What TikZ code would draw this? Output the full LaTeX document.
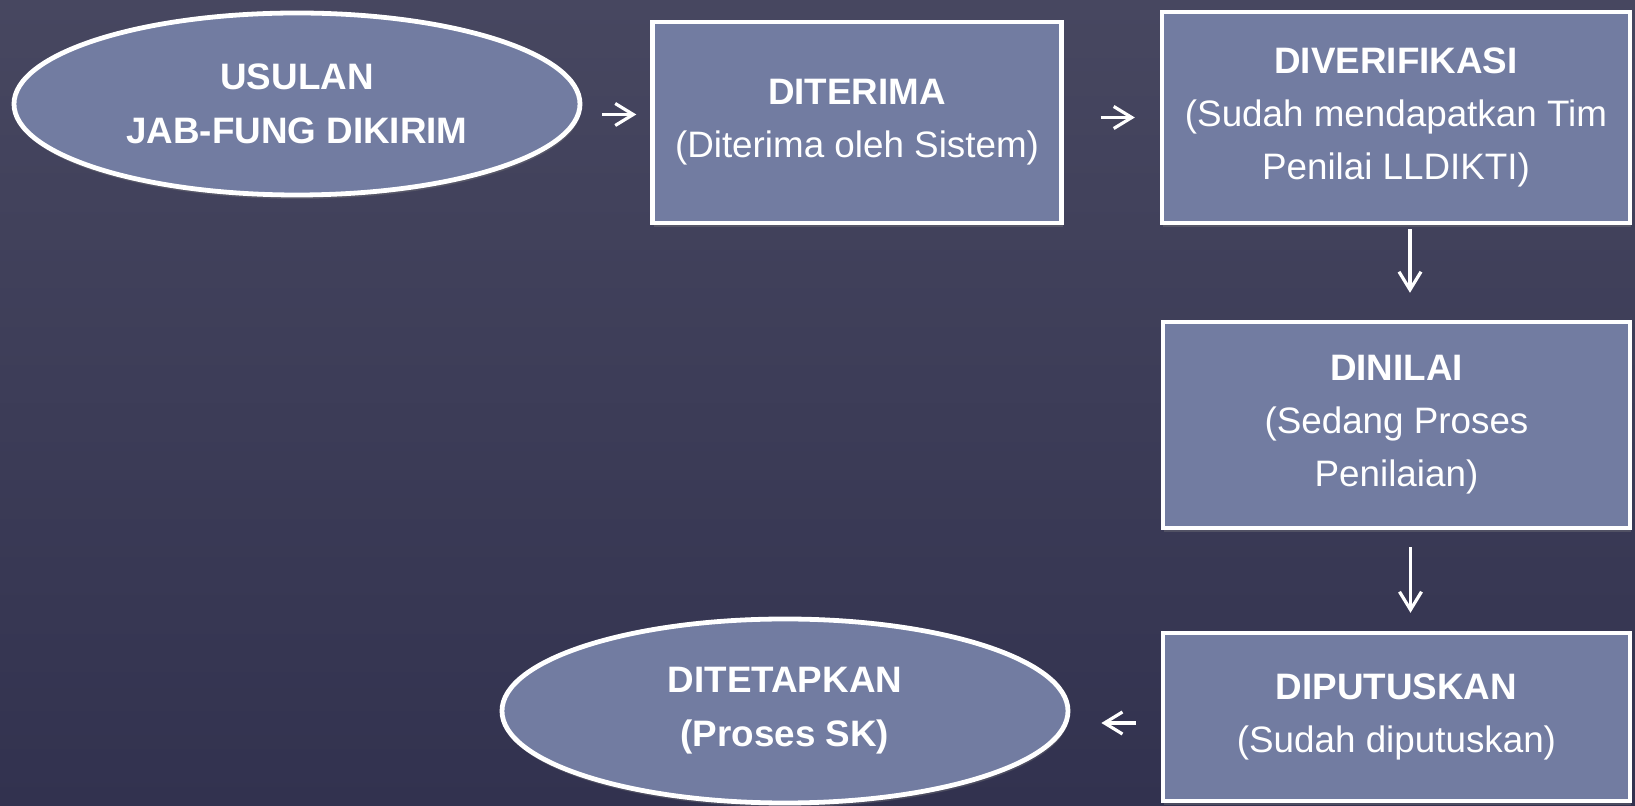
\documentclass[tikz,border=0pt]{standalone}
\usepackage{fontspec}
\setmainfont{Liberation Sans}
\usepackage{tikz}
\usetikzlibrary{shapes.geometric}
\usetikzlibrary{arrows.meta}
\usetikzlibrary{shadows}
\definecolor{bgtop}{RGB}{71,71,96}
\definecolor{bgbot}{RGB}{50,50,79}
\definecolor{stepfill}{RGB}{114,124,161}

\begin{document}
\begin{tikzpicture}[x=0.5pt,y=-0.5pt,
    stepbox/.style={rectangle,draw=white,line width=2.2pt,fill=stepfill,text=white,align=center,inner sep=0pt,font=\fontsize{18.4}{26.5}\selectfont,drop shadow={opacity=0.35,shadow xshift=0.5pt,shadow yshift=-2pt}},
    stepoval/.style={ellipse,draw=white,line width=2.4pt,fill=stepfill,text=white,align=center,inner sep=0pt,font=\bfseries\fontsize{18.4}{27}\selectfont,drop shadow={opacity=0.35,shadow xshift=0.5pt,shadow yshift=-2pt}},
    flow/.style={draw=white,line width=1.6pt,-{Straight Barb[length=9pt,width=11pt,line width=1.6pt]}}]
    \useasboundingbox (0,0) rectangle (1635,806);
    \fill[top color=bgtop,bottom color=bgbot] (0,0) rectangle (1635,806);
    %
    \node[stepoval,minimum width=283pt,minimum height=91pt] (usulan) at (297,104) {USULAN\\JAB-FUNG DIKIRIM};
    \node[stepbox,minimum width=204.5pt,minimum height=100.5pt] (diterima) at (857,122.5) {\textbf{DITERIMA}\\(Diterima oleh Sistem)};
    \node[stepbox,minimum width=234pt,minimum height=105.5pt] (diverifikasi) at (1396,117.5) {\textbf{DIVERIFIKASI}\\(Sudah mendapatkan Tim\\Penilai LLDIKTI)};
    %
    \node[stepbox,minimum width=233.5pt,minimum height=103pt] (dinilai) at (1396.5,425) {\textbf{DINILAI}\\(Sedang Proses\\Penilaian)};
    %
    \node[stepbox,minimum width=233.5pt,minimum height=84pt] (diputuskan) at (1396.5,717) {\textbf{DIPUTUSKAN}\\(Sudah diputuskan)};
    \node[stepoval,minimum width=283pt,minimum height=92pt] (ditetapkan) at (785,711) {DITETAPKAN\\(Proses SK)};
    %
    \coordinate (in_diterima) at ([yshift=4pt]diterima.west);
    \coordinate (out_diverifikasi) at ([xshift=7pt]diverifikasi.south);
    \coordinate (out_dinilai) at ([xshift=7pt]dinilai.south);
    \coordinate (out_diputuskan) at ([yshift=-3pt]diputuskan.west);
    %
    \begin{scope}[every path/.style={flow}]
        \draw[shorten <=10pt,shorten >=7pt] (usulan.east |- in_diterima) to (in_diterima);
        \draw[shorten <=18.5pt,shorten >=12.5pt] (diterima.east |- diverifikasi.west) to (diverifikasi.west);
        \draw[shorten <=2pt,shorten >=13.5pt] (out_diverifikasi) to (out_diverifikasi |- dinilai.north);
        \draw[shorten <=8.5pt,shorten >=9pt] (out_dinilai) to (out_dinilai |- diputuskan.north);
        \draw[shorten <=12.5pt,shorten >=15.5pt] (out_diputuskan) to (ditetapkan.east |- out_diputuskan);
    \end{scope}
\end{tikzpicture}
\end{document}
